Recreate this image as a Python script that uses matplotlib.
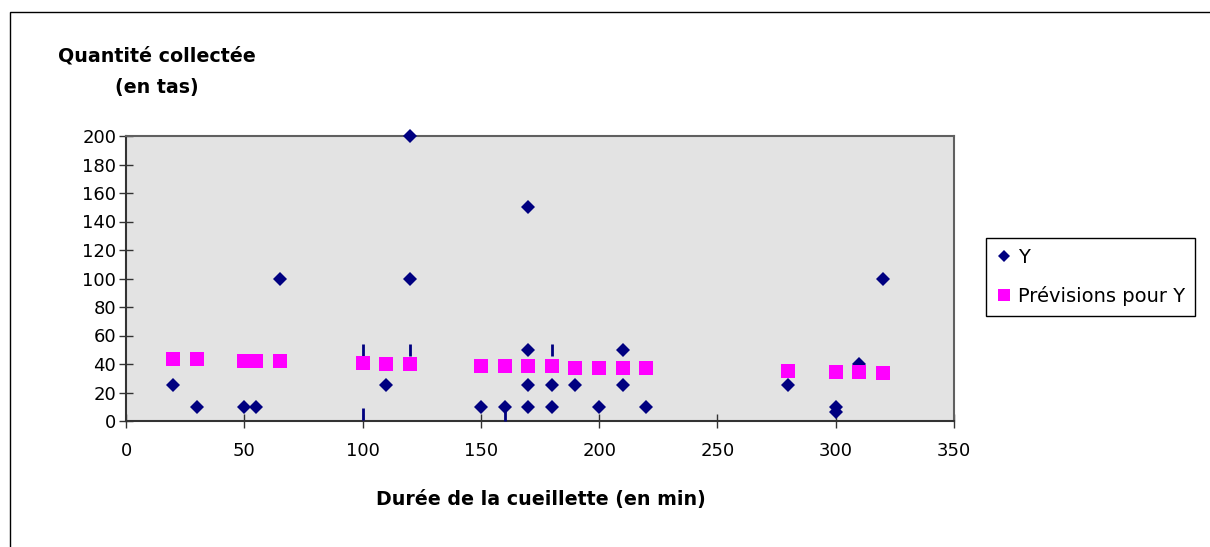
import matplotlib
matplotlib.use("Agg")
import matplotlib.pyplot as plt
from matplotlib.lines import Line2D
from matplotlib.patches import Rectangle

# ---- data ----
y_x = [20, 30, 50, 55, 65, 110, 120, 120, 150, 160, 170, 170, 170, 170,
       180, 180, 190, 200, 210, 210, 220, 280, 300, 300, 310, 320]
y_v = [25, 10, 10, 10, 100, 25, 200, 100, 10, 10, 150, 50, 25, 10,
       25, 10, 25, 10, 50, 25, 10, 25, 10, 6, 40, 100]

pred_x = [20, 30, 50, 55, 65, 100, 110, 120, 150, 160, 170, 180, 190, 200,
          210, 220, 280, 300, 310, 320]
pred_v = [43.5, 43.3, 42.2, 42.1, 41.9, 40.4, 40.2, 40.0, 38.8, 38.7, 38.6,
          38.4, 37.4, 37.3, 37.2, 37.0, 34.8, 34.4, 34.2, 33.6]

# small vertical dash marks visible in the plot
dash_x = [100, 120, 180, 100, 160]
dash_v = [50, 50, 50, 5, 4]

x_ticks = [0, 50, 100, 150, 200, 250, 300, 350]
y_ticks = [0, 20, 40, 60, 80, 100, 120, 140, 160, 180, 200]

x_label = "Durée de la cueillette (en min)"
y_label = "Quantité collectée\n(en tas)"
legend_labels = ["Y", "Prévisions pour Y"]

NAVY = "#000080"
MAGENTA = "#FF00FF"

plt.rcParams['font.family'] = ['DejaVu Sans']

fig = plt.figure(figsize=(12.10, 5.47), dpi=100)
fig.patch.set_facecolor("white")

# outer chart border (extends beyond right / bottom edges)
fig.patches.append(Rectangle((10 / 1210, -0.05), 1.2, 1 - 12 / 547 + 0.05,
                             transform=fig.transFigure, fill=False,
                             edgecolor="#000000", linewidth=1.0))

ax = fig.add_axes([126 / 1210, 1 - 421 / 547, (954 - 126) / 1210, (421 - 136) / 547])
ax.set_facecolor("#E3E3E3")

ax.plot(y_x, y_v, linestyle="none", marker="D", markersize=7.0,
        markerfacecolor=NAVY, markeredgewidth=0, color=NAVY, zorder=3,
        clip_on=False)
ax.plot(dash_x, dash_v, linestyle="none", marker="|", markersize=9,
        markeredgewidth=2.0, color=NAVY, zorder=3)
ax.plot(pred_x, pred_v, linestyle="none", marker="s", markersize=10,
        markerfacecolor=MAGENTA, markeredgewidth=0, color=MAGENTA, zorder=4)

ax.set_xlim(0, 350)
ax.set_ylim(0, 200)
ax.set_xticks(x_ticks)
ax.set_yticks(y_ticks)
ax.set_xticklabels([str(t) for t in x_ticks])
ax.set_yticklabels([str(t) for t in y_ticks])

for side in ("left", "bottom"):
    ax.spines[side].set_color("#333333")
    ax.spines[side].set_linewidth(1.5)
for side in ("top", "right"):
    ax.spines[side].set_color("#606060")
    ax.spines[side].set_linewidth(1.5)

ax.tick_params(axis="both", direction="inout", length=10, width=1.0,
               color="#333333", labelsize=13, labelcolor="black")
ax.tick_params(axis="x", pad=10)
ax.tick_params(axis="y", pad=2)

fig.text(541 / 1210, 1 - 500 / 547, x_label, ha="center", va="center",
         fontsize=13.7, fontweight="bold")
fig.text(157 / 1210, 1 - 72 / 547, y_label, ha="center", va="center",
         fontsize=13.7, fontweight="bold", linespacing=1.8,
         multialignment="center")

handles = [
    Line2D([], [], linestyle="none", marker="D", markersize=6.5,
           markerfacecolor=NAVY, markeredgewidth=0),
    Line2D([], [], linestyle="none", marker="s", markersize=9,
           markerfacecolor=MAGENTA, markeredgewidth=0),
]
leg = fig.legend(handles, legend_labels, loc="upper left",
                 bbox_to_anchor=(986 / 1210, 1 - 238 / 547),
                 bbox_transform=fig.transFigure, borderaxespad=0,
                 fontsize=14, frameon=True, fancybox=False, framealpha=1,
                 edgecolor="black", borderpad=0.5, labelspacing=1.0,
                 handlelength=0.8, handletextpad=0.35)
leg.get_frame().set_linewidth(1.0)

fig.savefig("out.png", dpi=100, facecolor="white")
